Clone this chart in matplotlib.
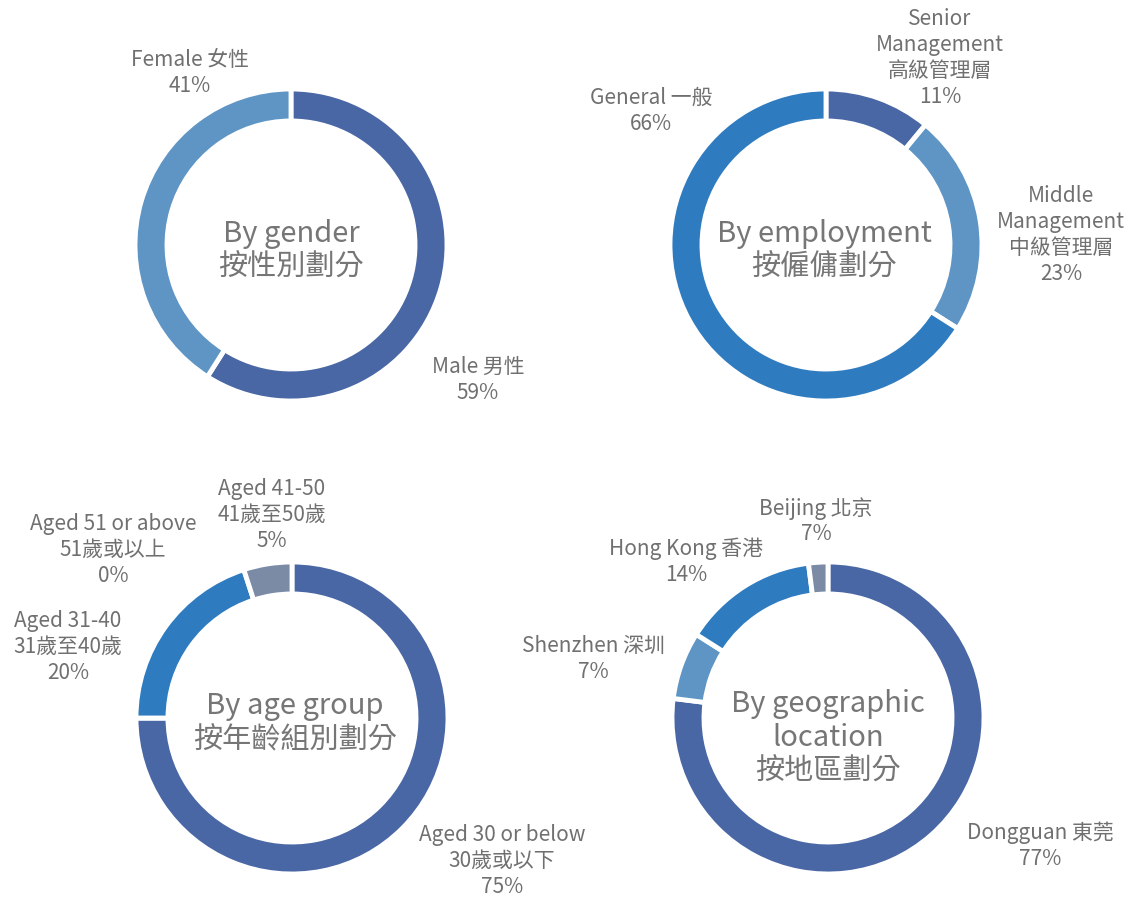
import matplotlib.pyplot as plt

plt.rcParams['font.family'] = ['Noto Sans CJK TC', 'DejaVu Sans']

# ---------------------------------------------------------------------------
# Data
# ---------------------------------------------------------------------------
gender_values = [59, 41]
gender_labels = ["Male 男性\n59%", "Female 女性\n41%"]

employ_values = [11, 23, 66]
employ_labels = ["Senior\nManagement\n高級管理層\n11%",
                 "Middle\nManagement\n中級管理層\n23%",
                 "General 一般\n66%"]

age_values = [75, 0, 20, 5]
age_labels = ["Aged 30 or below\n30歲或以下\n75%",
              "Aged 51 or above\n51歲或以上\n0%",
              "Aged 31-40\n31歲至40歲\n20%",
              "Aged 41-50\n41歲至50歲\n5%"]

geo_values = [77, 7, 14, 2]
geo_labels = ["Dongguan 東莞\n77%", "Shenzhen 深圳\n7%",
              "Hong Kong 香港\n14%", "Beijing 北京\n7%"]

titles = ["By gender\n按性別劃分", "By employment\n按僱傭劃分",
          "By age group\n按年齡組別劃分", "By geographic\nlocation\n按地區劃分"]

DARK = "#4a67a5"
LIGHT = "#5e95c4"
MID = "#2e7bc0"
GREY = "#7b8ba6"
TEXT = "#707070"

# ---------------------------------------------------------------------------
# Layout (pixel coords, y measured from top)
# ---------------------------------------------------------------------------
W, H = 1133, 898
R = 156

charts = [
    (gender_values, [DARK, LIGHT], (291, 245), gender_labels,
     [(478, 380), (190, 73)], (291, 251)),
    (employ_values, [DARK, LIGHT, MID], (826, 245), employ_labels,
     [(940, 58), (1061, 235), (651, 111)], (824, 251)),
    (age_values, [DARK, GREY, MID, GREY], (292, 718), age_labels,
     [(502, 861), (113, 550), (68, 647), (272, 515)], (295, 723)),
    (geo_values, [DARK, LIGHT, MID, GREY], (828, 718), geo_labels,
     [(1040, 846), (593, 659), (686, 562), (816, 521)], (828, 738)),
]

fig = plt.figure(figsize=(W / 100, H / 100), dpi=100)
ax = fig.add_axes([0, 0, 1, 1])

for (vals, cols, (cx, cy), labels, lab_pos, tpos), title in zip(charts, titles):
    ax.pie(vals, colors=cols, startangle=90, counterclock=False,
           center=(cx, H - cy), radius=R,
           wedgeprops=dict(width=R * 0.205, edgecolor='white', linewidth=3.5))
    for txt, (lx, ly) in zip(labels, lab_pos):
        ax.text(lx, H - ly, txt, ha='center', va='center', fontsize=15,
                color=TEXT, linespacing=1.22)
    ax.text(tpos[0], H - tpos[1], title, ha='center', va='center',
            fontsize=21, color="#767676", linespacing=1.18)

ax.set_xlim(0, W)
ax.set_ylim(0, H)
ax.set_aspect('equal')
ax.axis('off')

fig.savefig("out.png", dpi=100)
